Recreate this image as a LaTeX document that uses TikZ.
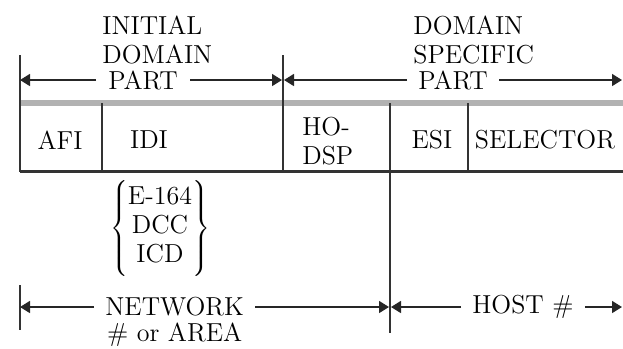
\documentclass[tikz,border=0pt]{standalone}
\usepackage{tikz}
\usetikzlibrary{arrows.meta,positioning}

\begin{document}
\begin{tikzpicture}[
    x=0.5pt, y=-0.5pt,
    every node/.style={font=\fontsize{13}{14.5}\selectfont, inner sep=0pt},
    lbl/.style={align=left, anchor=west, inner xsep=5.5pt},
    title/.style={align=left, anchor=south west},
    cell/.style={align=center},
    rule/.style={line width=1pt, draw=black!80},
    dim/.style={-{Triangle[length=5pt,width=6pt]}, line width=0.8pt, black!85},
]
\useasboundingbox (0,0) rectangle (623,349);

% Table
\fill[black!30] (20,100) rectangle (623,106);
\draw[line width=1.5pt, black!80] (20,171) -- (623,171);
\draw[rule] (20,55) -- (20,172);
\draw[rule] (102,103) -- (102,172);
\draw[rule] (283,55) -- (283,172);
\draw[rule] (390,103) -- (390,333);
\draw[rule] (468,103) -- (468,172);
\draw[rule] (20,285) -- (20,330);

\node[cell] (afi) at (60,140) {AFI};
\node[cell] (idi) at (149,140) {IDI};
\node[cell, align=left, anchor=west] (hodsp) at (302,141) {HO-\\DSP};
\node[cell] (esi) at (432,140) {ESI};
\node[cell] (sel) at (545,140) {SELECTOR};

% Top dimensions
\coordinate (idpL) at (20,80);
\coordinate (idpR) at (282,80);
\coordinate (dspL) at (284,80);
\coordinate (dspR) at (622,80);
\node[lbl, inner xsep=6pt] (idppart) at (96,80) {PART};
\node[title] (idptitle) at (102,64) {INITIAL\\DOMAIN};
\node[lbl] (dsppart) at (407,80) {PART};
\node[title] (dsptitle) at (413,64) {DOMAIN\\SPECIFIC};

\draw[dim] (idppart) -- (idpL);
\draw[dim] (idppart) -- (idpR);
\draw[dim] (dsppart) -- (dspL);
\draw[dim] (dsppart) -- (dspR);

% Codes
\node (codes) at (160,229) {$\left\{\rule[-22.5pt]{0pt}{50pt}\begin{tabular}{@{}c@{}}E-164\\DCC\\ICD\end{tabular}\right\}$};

% Bottom dimensions
\coordinate (netL) at (20,307);
\coordinate (netR) at (389,307);
\coordinate (hostL) at (391,307);
\coordinate (hostR) at (622,307);
\node[lbl] (net) at (94,307) {NETWORK};
\node[below=3pt of net] (area) {\# or AREA};
\node[lbl] (host) at (461,307) {HOST \#};

\draw[dim] (net) -- (netL);
\draw[dim] (net) -- (netR);
\draw[dim] (host) -- (hostL);
\draw[dim] (host) -- (hostR);

\end{tikzpicture}
\end{document}
